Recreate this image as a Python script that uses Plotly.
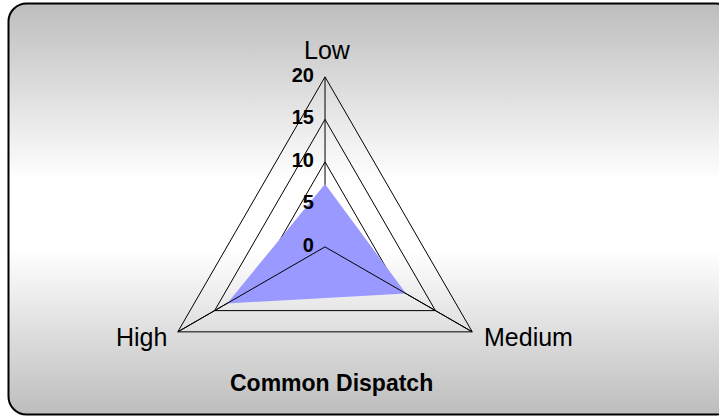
import base64
import plotly.graph_objects as go

# Data
categories = ["Low", "Medium", "High"]
values = [7.4, 11, 13.3]
radial_ticks = [0, 5, 10, 15, 20]
title_text = "Common Dispatch"

r_max = radial_ticks[-1]

# Rounded gray/white gradient panel behind everything
bg_svg = """<svg xmlns='http://www.w3.org/2000/svg' width='719' height='417' viewBox='0 0 719 417' preserveAspectRatio='none'>
<defs><linearGradient id='g' x1='0' y1='0' x2='0' y2='1'>
<stop offset='0' stop-color='#bdbdbd'/><stop offset='0.43' stop-color='#ffffff'/>
<stop offset='0.6' stop-color='#ffffff'/><stop offset='1' stop-color='#bdbdbd'/></linearGradient></defs>
<rect x='8.5' y='3.5' width='725' height='411' rx='18' ry='18' fill='url(#g)' stroke='#000' stroke-width='2'/>
</svg>"""
bg_uri = "data:image/svg+xml;base64," + base64.b64encode(bg_svg.encode()).decode()

fig = go.Figure()

fig.add_trace(go.Scatterpolar(
    r=values, theta=categories, fill="toself", mode="lines",
    fillcolor="#9999FF", line=dict(color="rgba(0,0,0,0)", width=0),
    hoverinfo="skip", showlegend=False,
))

# spokes to Medium and High sit on top of the fill, like the original
for cat in categories[1:]:
    fig.add_trace(go.Scatterpolar(
        r=[0, r_max], theta=[cat, cat], mode="lines",
        line=dict(color="black", width=1), hoverinfo="skip", showlegend=False,
    ))

# radial tick labels along the Low spoke, set a bit off the line like Excel does
# (plotly drops text sitting exactly on the pole, so nudge the 0 label a hair out)
fig.add_trace(go.Scatterpolar(
    r=[t if t else 0.02 for t in radial_ticks],
    theta=[categories[0]] * len(radial_ticks), mode="text",
    text=[f"{t}\u00a0\u00a0" for t in radial_ticks], textposition="middle left",
    textfont=dict(size=20, color="black", weight="bold"),
    cliponaxis=False, hoverinfo="skip", showlegend=False,
))

# category labels placed by hand (Excel puts them further out than plotly does)
label_pos = {
    "Low": dict(x=0.455, y=0.880, xanchor="center"),
    "Medium": dict(x=0.670, y=0.192, xanchor="left"),
    "High": dict(x=0.235, y=0.192, xanchor="right"),
}
annotations = []
for cat in categories:
    annotations.append(dict(text=cat, xref="paper", yref="paper", showarrow=False,
                            yanchor="middle", font=dict(size=25, color="black"),
                            **label_pos[cat]))
annotations.append(dict(text=title_text, x=0.461, y=0.0815, xref="paper", yref="paper",
                        showarrow=False, yanchor="middle",
                        font=dict(size=23, weight="bold", color="black")))

fig.update_layout(
    width=719, height=417,
    margin=dict(l=0, r=0, t=0, b=0),
    paper_bgcolor="white",
    font=dict(family="Liberation Sans, Arial, sans-serif", color="black"),
    images=[dict(source=bg_uri, xref="paper", yref="paper", x=0, y=1,
                 sizex=1, sizey=1, sizing="stretch", layer="below")],
    polar=dict(
        domain=dict(x=[0.2156, 0.6885], y=[0.0, 0.816]),
        bgcolor="rgba(0,0,0,0)",
        gridshape="linear",
        angularaxis=dict(
            rotation=90, direction="clockwise",
            showline=True, linecolor="black", linewidth=1,
            showgrid=True, gridcolor="black", gridwidth=1,
            ticks="", showticklabels=False,
        ),
        radialaxis=dict(
            range=[0, r_max], tickvals=radial_ticks, angle=90,
            showline=False, showgrid=True, gridcolor="black", gridwidth=1,
            ticks="", showticklabels=False,
        ),
    ),
    annotations=annotations,
)

# the page body has an 8px default margin; drop it so the chart fills the window
fig.write_html("out.html", config={"displayModeBar": False},
               post_script="document.body.style.margin='0';")
